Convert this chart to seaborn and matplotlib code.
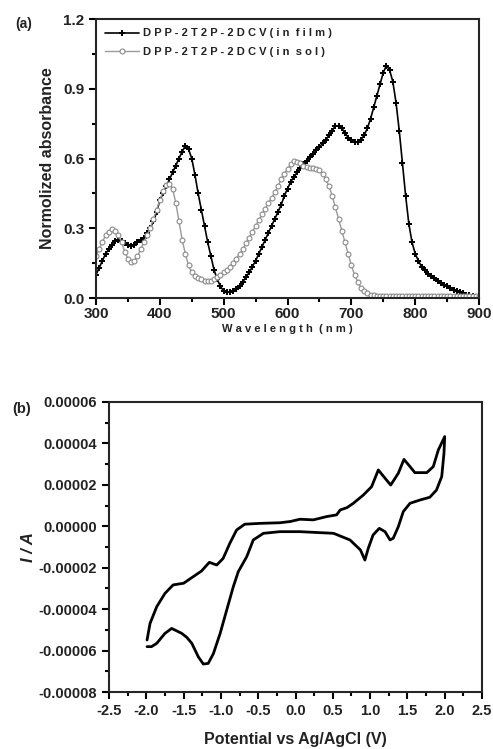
import numpy as np
import pandas as pd
import seaborn as sns
import matplotlib
matplotlib.use("Agg")
import matplotlib.pyplot as plt
from matplotlib.ticker import MultipleLocator, FuncFormatter

# UV-vis absorbance (5 nm steps, 300-900 nm)
wavelength = list(range(300, 905, 5))
abs_film = [0.10, 0.13, 0.16, 0.19, 0.21, 0.23, 0.245, 0.25, 0.245, 0.235,
            0.23, 0.225, 0.23, 0.24, 0.25, 0.26, 0.28, 0.30, 0.33, 0.37,
            0.42, 0.45, 0.48, 0.51, 0.54, 0.57, 0.60, 0.63, 0.655, 0.64,
            0.60, 0.53, 0.45, 0.38, 0.31, 0.24, 0.18, 0.12, 0.08, 0.05,
            0.03, 0.025, 0.025, 0.03, 0.04, 0.05, 0.07, 0.09, 0.11, 0.135,
            0.16, 0.19, 0.22, 0.25, 0.28, 0.31, 0.34, 0.37, 0.40, 0.44,
            0.47, 0.50, 0.52, 0.54, 0.56, 0.575, 0.59, 0.605, 0.62, 0.635,
            0.65, 0.665, 0.68, 0.70, 0.72, 0.74, 0.74, 0.73, 0.71, 0.69,
            0.68, 0.67, 0.67, 0.68, 0.70, 0.73, 0.77, 0.82, 0.87, 0.92,
            0.97, 1.00, 0.98, 0.93, 0.84, 0.72, 0.58, 0.44, 0.32, 0.24,
            0.19, 0.16, 0.135, 0.12, 0.105, 0.095, 0.085, 0.075, 0.065, 0.058,
            0.05, 0.043, 0.036, 0.03, 0.025, 0.02, 0.015, 0.011, 0.008, 0.006,
            0.005]
abs_sol = [0.18, 0.21, 0.24, 0.27, 0.285, 0.295, 0.29, 0.27, 0.24, 0.20,
           0.17, 0.155, 0.16, 0.18, 0.21, 0.24, 0.27, 0.30, 0.34, 0.38,
           0.42, 0.46, 0.485, 0.49, 0.47, 0.41, 0.33, 0.25, 0.19, 0.14,
           0.11, 0.095, 0.085, 0.08, 0.075, 0.075, 0.075, 0.08, 0.09, 0.10,
           0.11, 0.12, 0.135, 0.15, 0.17, 0.19, 0.21, 0.235, 0.26, 0.285,
           0.31, 0.335, 0.36, 0.385, 0.41, 0.43, 0.455, 0.48, 0.51, 0.535,
           0.555, 0.575, 0.59, 0.585, 0.58, 0.57, 0.565, 0.56, 0.56, 0.555,
           0.55, 0.535, 0.51, 0.48, 0.44, 0.39, 0.34, 0.29, 0.24, 0.19,
           0.14, 0.10, 0.07, 0.045, 0.03, 0.02, 0.015, 0.012, 0.01, 0.01,
           0.009, 0.009, 0.009, 0.008, 0.008, 0.008, 0.008, 0.008, 0.008, 0.008,
           0.008, 0.008, 0.008, 0.008, 0.008, 0.008, 0.008, 0.008, 0.008, 0.008,
           0.008, 0.008, 0.008, 0.008, 0.008, 0.008, 0.008, 0.008, 0.008, 0.008,
           0.008]
legend_labels = ['DPP-2T2P-2DCV(in film)', 'DPP-2T2P-2DCV(in sol)']

# cyclic voltammogram, traced as one path (V, units of 1e-5 A)
cv_potential = [-1.99, -1.95, -1.86, -1.75, -1.64, -1.50, -1.37, -1.26, -1.155, -1.056,
                -0.97, -0.88, -0.79, -0.68, -0.48, -0.21, -0.07, 0.06, 0.24, 0.42,
                0.55, 0.60, 0.69, 0.775, 0.91, 1.02, 1.11, 1.20, 1.276, 1.378,
                1.454, 1.535, 1.60, 1.76, 1.847, 1.914, 2.0,
                1.99, 1.96, 1.89, 1.80, 1.67, 1.535, 1.445, 1.378, 1.31, 1.267,
                1.20, 1.123, 1.04, 0.976, 0.93, 0.87, 0.73, 0.51, 0.06, -0.21,
                -0.43, -0.566, -0.654, -0.767, -0.834, -0.922, -1.01, -1.10, -1.17, -1.236,
                -1.303, -1.39, -1.458, -1.525, -1.66, -1.75, -1.86, -1.93, -1.99]
cv_current = [-5.49, -4.69, -3.88, -3.24, -2.83, -2.75, -2.43, -2.16, -1.74, -1.87,
              -1.55, -0.82, -0.18, 0.10, 0.14, 0.17, 0.23, 0.34, 0.31, 0.47,
              0.55, 0.79, 0.90, 1.11, 1.51, 1.91, 2.72, 2.32, 1.99, 2.56,
              3.23, 2.88, 2.59, 2.59, 2.88, 3.68, 4.33,
              3.52, 2.40, 1.75, 1.40, 1.27, 1.11, 0.71, -0.02, -0.58, -0.66,
              -0.26, -0.10, -0.42, -1.06, -1.63, -1.14, -0.66, -0.34, -0.26, -0.26,
              -0.34, -0.66, -1.47, -2.19, -2.92, -4.04, -5.17, -6.14, -6.62, -6.65,
              -6.30, -5.65, -5.36, -5.17, -4.93, -5.17, -5.65, -5.81, -5.81]

def spaced(s):
    # the original figure uses wide letter spacing
    return ' '.join(s).replace('   ', '  ')

sns.set_style("ticks")
plt.rcParams['font.family'] = ['Liberation Sans', 'DejaVu Sans']
plt.rcParams['font.weight'] = 'bold'
plt.rcParams['axes.labelweight'] = 'bold'
plt.rcParams['axes.linewidth'] = 1.5
for ax_name in ['xtick', 'ytick']:
    plt.rcParams[ax_name + '.direction'] = 'out'
    plt.rcParams[ax_name + '.major.width'] = 1.5
    plt.rcParams[ax_name + '.minor.width'] = 1.5
    plt.rcParams[ax_name + '.major.size'] = 5
    plt.rcParams[ax_name + '.minor.size'] = 3
    plt.rcParams[ax_name + '.color'] = 'black'
    plt.rcParams[ax_name + '.labelcolor'] = '#222222'

fig = plt.figure(figsize=(4.93, 7.49), dpi=100)
ax1 = fig.add_axes([0.1947, 0.6021, 0.777, 0.3725])
ax2 = fig.add_axes([0.2211, 0.0761, 0.7566, 0.3872])

# ---- panel (a)
uv = pd.DataFrame({'Wavelength': wavelength, 'film': abs_film, 'sol': abs_sol})
sns.lineplot(data=uv, x='Wavelength', y='film', ax=ax1, color='black', lw=1.2,
             marker='P', markersize=3.8, markeredgewidth=0, markerfacecolor='black',
             label=spaced(legend_labels[0]))
sns.lineplot(data=uv, x='Wavelength', y='sol', ax=ax1, color='#9a9a9a', lw=1.0,
             marker='o', markersize=3.5, markeredgewidth=0.8, markerfacecolor='white',
             markeredgecolor='#8a8a8a', label=spaced(legend_labels[1]))
ax1.set_xlim(300, 900)
ax1.set_ylim(0, 1.2)
ax1.xaxis.set_major_locator(MultipleLocator(100))
ax1.xaxis.set_minor_locator(MultipleLocator(50))
ax1.yaxis.set_major_locator(MultipleLocator(0.3))
ax1.yaxis.set_minor_locator(MultipleLocator(0.15))
ax1.tick_params(labelsize=11)
ax1.tick_params(axis='x', pad=1.5)
ax1.set_xlabel(spaced('Wavelength (nm)'), fontsize=8, color='#222222', labelpad=2)
ax1.set_ylabel('Normolized absorbance', fontsize=11.5, color='#222222', labelpad=6)
for s in ax1.spines.values():
    s.set_visible(True)
leg = ax1.legend(loc='upper left', frameon=False, fontsize=8, handlelength=3.0,
                 borderaxespad=0.45, handletextpad=0.4, labelspacing=0.8)
for t in leg.get_texts():
    t.set_color('#222222')
fig.text(0.03, 0.962, '(a)', fontsize=10, color='#222222')

# ---- panel (b)
sns.lineplot(x=cv_potential, y=[c * 1e-5 for c in cv_current], ax=ax2, sort=False,
             estimator=None, color='black', lw=2.0)
ax2.set_xlim(-2.5, 2.5)
ax2.set_ylim(-0.00008, 0.00006)
ax2.xaxis.set_major_locator(MultipleLocator(0.5))
ax2.xaxis.set_minor_locator(MultipleLocator(0.25))
ax2.yaxis.set_major_locator(MultipleLocator(0.00002))
ax2.yaxis.set_minor_locator(MultipleLocator(0.00001))
ax2.yaxis.set_major_formatter(FuncFormatter(lambda v, p: '%.5f' % (round(v, 6) + 0.0)))
ax2.xaxis.set_major_formatter(FuncFormatter(lambda v, p: '%.1f' % (round(v, 2) + 0.0)))
ax2.tick_params(labelsize=10.5)
ax2.set_xlabel('Potential vs Ag/AgCl (V)', fontsize=11.5, color='#222222', labelpad=10)
ax2.set_ylabel('I / A', fontsize=12, style='italic', color='#222222', labelpad=2)
for s in ax2.spines.values():
    s.set_visible(True)
fig.text(0.025, 0.448, '(b)', fontsize=10.5, color='#222222')

fig.savefig('out.png', dpi=100)
